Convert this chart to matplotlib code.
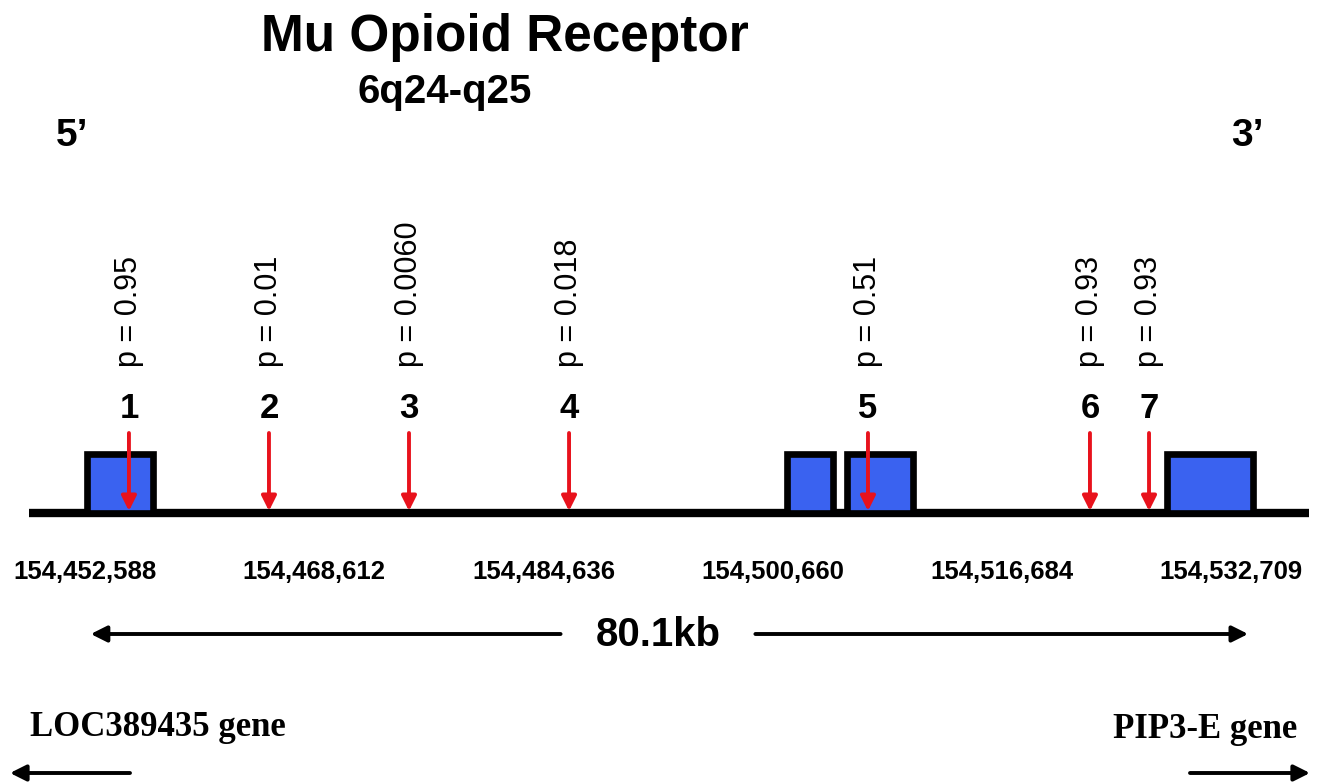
#!/usr/bin/env python3
"""Mu opioid receptor (OPRM1) gene map with SNP positions and p values."""
import matplotlib
matplotlib.use("Agg")
import matplotlib.pyplot as plt
from matplotlib.patches import Rectangle

# region drawn as the chromosome line (genomic coordinates, chr6)
region = [154448670, 154538160]

# exons (blue blocks)
exon_start = [154452730, 154501670, 154505860, 154528240]
exon_end = [154457340, 154504890, 154510480, 154534250]

# SNPs (red arrows)
snp_id = ["1", "2", "3", "4", "5", "6", "7"]
snp_pos = [154455660, 154465450, 154475240, 154486430, 154507330, 154522850, 154526980]
snp_p = ["0.95", "0.01", "0.0060", "0.018", "0.51", "0.93", "0.93"]

# coordinate labels under the line
tick_pos = [154452588, 154468612, 154484636, 154500660, 154516684, 154532709]
tick_lab = ["154,452,588", "154,468,612", "154,484,636",
            "154,500,660", "154,516,684", "154,532,709"]

span_label = "80.1kb"
left_gene = "LOC389435 gene"
right_gene = "PIP3-E gene"

SANS = "Liberation Sans"
SERIF = "Liberation Serif"
BLUE = "#3a62f0"
RED = "#e8121c"

fig = plt.figure(figsize=(13.2, 7.82), dpi=100)
ax = fig.add_axes([0, 0, 1, 1])
ax.set_xlim(154446645, 154538934)
ax.set_ylim(782, 0)          # y is layout only (pixels from top)
ax.axis("off")

Y_LINE = 513
# chromosome line
ax.plot(region, [Y_LINE, Y_LINE], color="black", lw=6, solid_capstyle="butt", zorder=1)

# exons
for s, e in zip(exon_start, exon_end):
    ax.add_patch(Rectangle((s, 454), e - s, Y_LINE - 454, facecolor=BLUE,
                           edgecolor="black", lw=4.8, zorder=2))

# SNP arrows, numbers, p values
for sid, pos, p in zip(snp_id, snp_pos, snp_p):
    ax.annotate("", xy=(pos, 511), xytext=(pos, 433),
                arrowprops=dict(arrowstyle="-|>", color=RED, lw=2.8,
                                mutation_scale=22, shrinkA=0, shrinkB=0),
                zorder=3)
    ax.text(pos, 408, sid, ha="center", va="center", fontsize=25,
            fontweight="bold", family=SANS)
    ax.text(pos, 367, f"p = {p}", ha="center", va="bottom", rotation=90,
            fontsize=22, family=SANS)

# coordinate labels
for pos, lab in zip(tick_pos, tick_lab):
    ax.text(pos, 572, lab, ha="center", va="center", fontsize=18.5,
            fontweight="bold", family=SANS)

# 80.1kb span arrows
mid = (tick_pos[0] + tick_pos[-1]) / 2
half = (tick_pos[-1] - tick_pos[0]) * 0.085
ax.text(mid, 635, span_label, ha="center", va="center", fontsize=29,
        fontweight="bold", family=SANS)
arrow_kw = dict(arrowstyle="-|>", color="black", lw=2.8, mutation_scale=24,
                shrinkA=0, shrinkB=0)
ax.annotate("", xy=(tick_pos[0] + 400, 634), xytext=(mid - half, 634), arrowprops=arrow_kw)
ax.annotate("", xy=(tick_pos[-1] + 1200, 634), xytext=(mid + half, 634), arrowprops=arrow_kw)

# flanking genes
ax.text(30 / 1320, 1 - 727 / 782, left_gene, transform=ax.transAxes, ha="left",
        va="center", fontsize=25, fontweight="bold", family=SERIF)
ax.text(1297 / 1320, 1 - 729 / 782, right_gene, transform=ax.transAxes, ha="right",
        va="center", fontsize=25, fontweight="bold", family=SERIF)
ax.annotate("", xy=(10 / 1320, 1 - 773 / 782), xytext=(130 / 1320, 1 - 773 / 782),
            xycoords="axes fraction", textcoords="axes fraction", arrowprops=arrow_kw)
ax.annotate("", xy=(1310 / 1320, 1 - 773 / 782), xytext=(1190 / 1320, 1 - 773 / 782),
            xycoords="axes fraction", textcoords="axes fraction", arrowprops=arrow_kw)

# titles and strand ends
fig.text(505 / 1320, 1 - 38 / 782, "Mu Opioid Receptor", ha="center", va="center",
         fontsize=37, fontweight="bold", family=SANS)
fig.text(445 / 1320, 1 - 92 / 782, "6q24-q25", ha="center", va="center",
         fontsize=29, fontweight="bold", family=SANS)
fig.text(72 / 1320, 1 - 136 / 782, "5\u2019", ha="center", va="center",
         fontsize=28, fontweight="bold", family=SANS)
fig.text(1247 / 1320, 1 - 136 / 782, "3\u2019", ha="center", va="center",
         fontsize=28, fontweight="bold", family=SANS)

fig.savefig("out.png", dpi=100)
